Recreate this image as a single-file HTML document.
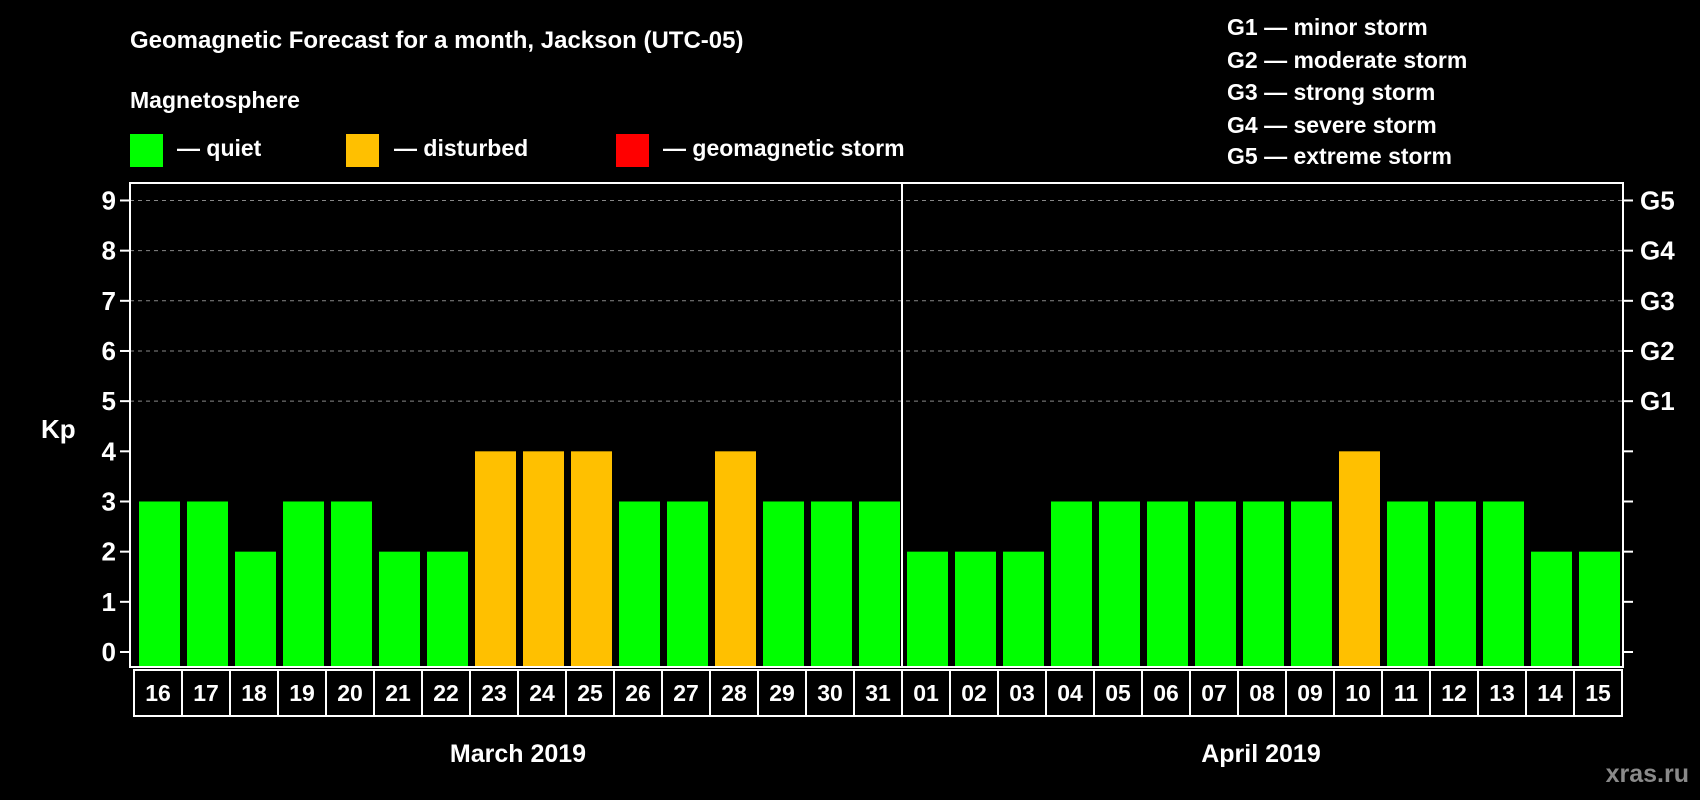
<!DOCTYPE html>
<html><head><meta charset="utf-8"><style>
html,body{margin:0;padding:0;background:#000;}
svg{display:block;font-family:"Liberation Sans",Arial,sans-serif;font-weight:bold;}
</style></head><body>
<svg id="chart" width="1700" height="800" viewBox="0 0 1700 800">
<rect width="1700" height="800" fill="#000"/>
<text x="130" y="48" fill="#fff" font-size="24">Geomagnetic Forecast for a month, Jackson (UTC-05)</text>
<text x="130" y="108" fill="#fff" font-size="23">Magnetosphere</text>
<g><rect x="130" y="134" width="33" height="33" fill="#00ff00"/><text x="177" y="156" fill="#fff" font-size="23">— quiet</text></g>
<g><rect x="346" y="134" width="33" height="33" fill="#ffc000"/><text x="394" y="156" fill="#fff" font-size="23">— disturbed</text></g>
<g><rect x="616" y="134" width="33" height="33" fill="#ff0000"/><text x="663" y="156" fill="#fff" font-size="23">— geomagnetic storm</text></g>
<g fill="#fff" font-size="23">
<text x="1227" y="35">G1 — minor storm</text>
<text x="1227" y="68">G2 — moderate storm</text>
<text x="1227" y="100">G3 — strong storm</text>
<text x="1227" y="133">G4 — severe storm</text>
<text x="1227" y="164">G5 — extreme storm</text>
</g>
<text x="41" y="438" fill="#fff" font-size="26">Kp</text>
<g id="grid"></g><g id="bars"></g><g id="axes"></g>
<text x="518" y="762" fill="#fff" font-size="25" text-anchor="middle">March 2019</text>
<text x="1261" y="762" fill="#fff" font-size="25" text-anchor="middle">April 2019</text>
<text x="1689" y="782" fill="#8a8a8a" font-size="25" text-anchor="end">xras.ru</text>
</svg>
<script>
const days = ["16","17","18","19","20","21","22","23","24","25","26","27","28","29","30","31","01","02","03","04","05","06","07","08","09","10","11","12","13","14","15"];
const kpValues = [3,3,2,3,3,2,2,4,4,4,3,3,4,3,3,3,2,2,2,3,3,3,3,3,3,4,3,3,3,2,2];
const yTicks = [0,1,2,3,4,5,6,7,8,9];
const gLabels = ["G1","G2","G3","G4","G5"];
const NS="http://www.w3.org/2000/svg";
const L=130,R=1623,T=183,B=667;
const y=v=>652-v*50.17;
const x0=139,pitch=(1620-139-41)/30,bw=41;
const xb=i=>x0+i*pitch;
function mk(tag,attrs,parent){const e=document.createElementNS(NS,tag);for(const k in attrs)e.setAttribute(k,attrs[k]);parent.appendChild(e);return e;}
const grid=document.getElementById('grid'),bars=document.getElementById('bars'),axes=document.getElementById('axes');
yTicks.forEach(v=>{
  if(v>=5){const g=mk('line',{x1:L,x2:R,y1:y(v),y2:y(v),stroke:'#888','stroke-dasharray':'4,4','stroke-width':1},grid);
  
  }
  const t=mk('line',{x1:L-10,x2:L,y1:y(v),y2:y(v),stroke:'#fff','stroke-width':2},axes);
  
  
  const t2=mk('line',{x1:R,x2:R+10,y1:y(v),y2:y(v),stroke:'#fff','stroke-width':2},axes);
  
  
  const lb=mk('text',{x:L-14,y:y(v)+9,fill:'#fff','font-size':26,'text-anchor':'end'},axes);
  lb.textContent=v;
  
  
});
gLabels.forEach((g,i)=>{
  const lb=mk('text',{x:R+17,y:y(i+5)+9,fill:'#fff','font-size':26},axes);
  lb.textContent=g;
  
  
});
kpValues.forEach((v,i)=>{
  const c=v>=5?'#ff0000':(v>=4?'#ffc000':'#00ff00');
  const r=mk('rect',{x:xb(i),y:y(v),width:bw,height:y(0)-y(v)+15,fill:c},bars);
  
  
  const bx=mk('rect',{x:xb(i)-5,y:670,width:pitch,height:46,fill:'none',stroke:'#fff','stroke-width':2},axes);
  
  
  const t=mk('text',{x:xb(i)-5+pitch/2,y:701,fill:'#fff','font-size':23,'text-anchor':'middle'},axes);
  t.textContent=days[i];
  
  
});
const fr=mk('rect',{x:L,y:T,width:R-L,height:B-T,fill:'none',stroke:'#fff','stroke-width':2},axes);


const dv=mk('line',{x1:902,x2:902,y1:T,y2:B,stroke:'#fff','stroke-width':2},axes);


</script>
</body></html>
